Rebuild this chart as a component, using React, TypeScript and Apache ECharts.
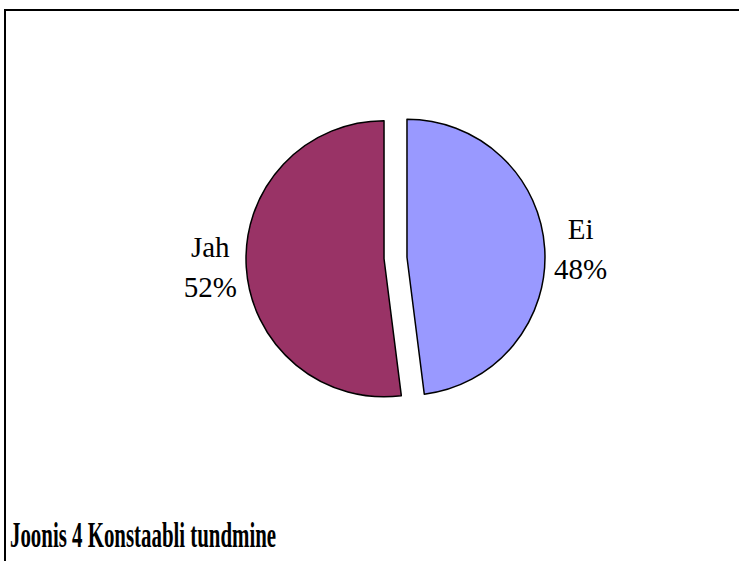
import React, { useEffect, useRef } from "react";
import * as echarts from "echarts";

const categories = ["Ei", "Jah"];
const values = [48, 52];
const colors = ["#9999FF", "#993366"];
const titleText = "Joonis 4 Konstaabli tundmine";

const SERIF = "'Liberation Serif', 'Times New Roman', serif";

export default function App() {
  const ref = useRef<HTMLDivElement>(null);
  useEffect(() => {
    if (!ref.current) return;
    const chart = echarts.init(ref.current, undefined, { renderer: "svg" });
    chart.setOption({
      animation: false,
      backgroundColor: "#ffffff",
      textStyle: { fontFamily: SERIF },
      graphic: [
        {
          type: "rect",
          shape: { x: 5, y: 10, width: 800, height: 700 },
          style: { fill: "none", stroke: "#000000", lineWidth: 2 },
          silent: true,
        },
        {
          type: "text",
          x: 10,
          y: 535,
          scaleX: 0.58,
          style: {
            text: titleText,
            x: 0,
            y: 0,
            fontSize: 36,
            fontWeight: "bold",
            fontFamily: SERIF,
            fill: "#000000",
            verticalAlign: "middle",
            align: "left",
          },
        },
      ],
      series: [
        {
          type: "pie",
          center: [395.5, 258],
          radius: 138,
          startAngle: 90,
          clockwise: true,
          selectedMode: "multiple",
          selectedOffset: 11.5,
          avoidLabelOverlap: false,
          emphasis: { disabled: true },
          itemStyle: { borderColor: "#000000", borderWidth: 1.5 },
          select: { itemStyle: { borderColor: "#000000", borderWidth: 1.5 } },
          label: {
            show: true,
            position: "outside",
            alignTo: "none",
            distanceToLabelLine: 8,
            formatter: (p: any) =>
              `{t|${p.name}}\n{t|${Math.round(p.percent)}%}`,
            fontFamily: SERIF,
            fontSize: 29,
            lineHeight: 40,
            color: "#000000",
            rich: {
              t: {
                width: 56,
                align: "center",
                fontFamily: SERIF,
                fontSize: 29,
                lineHeight: 40,
                color: "#000000",
              },
            },
          },
          labelLine: { show: false, length: 0, length2: 0 },
          data: categories.map((name, i) => ({
            name,
            value: values[i],
            selected: true,
            itemStyle: { color: colors[i] },
            select: { itemStyle: { color: colors[i] } },
          })),
        },
      ],
    });
    return () => chart.dispose();
  }, []);
  return (
    <div
      ref={ref}
      style={{ position: "fixed", left: 0, top: 0, width: 739, height: 561 }}
    />
  );
}
